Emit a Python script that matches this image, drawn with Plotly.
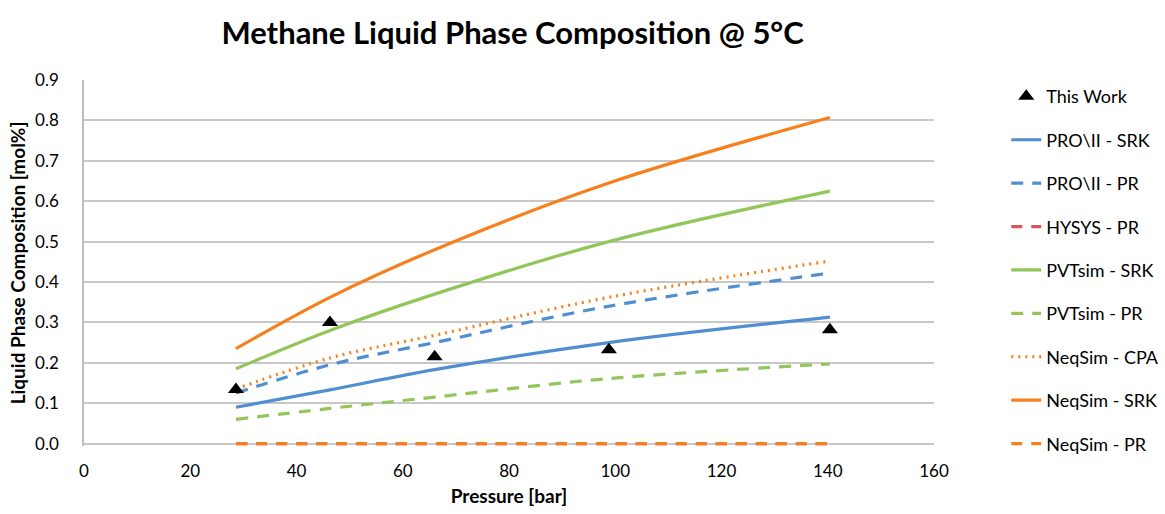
import plotly.graph_objects as go

# Pressures [bar] at which the models were evaluated and measurements taken
pressure = [28.6, 46.3, 66.0, 98.8, 140.4]

# Measured methane liquid-phase composition
this_work = [0.134, 0.300, 0.215, 0.232, 0.282]

# Model predictions
proii_srk = [0.090, 0.133, 0.183, 0.250, 0.313]
proii_pr = [0.125, 0.195, 0.250, 0.340, 0.422]
hysys_pr = [0.0, 0.0, 0.0, 0.0, 0.0]
pvtsim_srk = [0.185, 0.280, 0.370, 0.500, 0.625]
pvtsim_pr = [0.060, 0.087, 0.115, 0.161, 0.197]
neqsim_cpa = [0.135, 0.212, 0.268, 0.362, 0.452]
neqsim_srk = [0.235, 0.362, 0.480, 0.645, 0.807]
neqsim_pr = [0.0, 0.0, 0.0, 0.0, 0.0]

x_ticks = [0, 20, 40, 60, 80, 100, 120, 140, 160]
y_ticks = [0.0, 0.1, 0.2, 0.3, 0.4, 0.5, 0.6, 0.7, 0.8, 0.9]

BLUE = "#4f8fd0"
RED = "#d9545a"
GREEN = "#93c65a"
ORANGE = "#f7801e"

FONT = "Lato, 'Open Sans', sans-serif"

fig = go.Figure()

series = [
    ("PRO\\II - SRK", proii_srk, BLUE, "solid"),
    ("PRO\\II - PR", proii_pr, BLUE, "12px,9px"),
    ("HYSYS - PR", hysys_pr, RED, "11px,9px"),
    ("PVTsim - SRK", pvtsim_srk, GREEN, "solid"),
    ("PVTsim - PR", pvtsim_pr, GREEN, "12px,9px"),
    ("NeqSim - CPA", neqsim_cpa, ORANGE, "2px,5px"),
    ("NeqSim - SRK", neqsim_srk, ORANGE, "solid"),
    ("NeqSim - PR", neqsim_pr, ORANGE, "11px,9px"),
]
for i, (name, vals, color, dash) in enumerate(series):
    fig.add_trace(go.Scatter(
        x=pressure, y=vals, name=name, mode="lines",
        line=dict(color=color, width=3.2, dash=dash, shape="spline", smoothing=1.0),
        legendgroup=f"g{i}", legendrank=i + 2))

# Measurements drawn last so they sit above the curves, but listed first
fig.add_trace(go.Scatter(
    x=pressure, y=this_work, name="This Work", mode="markers",
    marker=dict(symbol="triangle-up", size=14, color="black"),
    legendgroup="a", legendrank=1))

fig.update_layout(
    width=1165, height=514,
    margin=dict(l=84, r=231, t=80, b=68, autoexpand=False),
    paper_bgcolor="white", plot_bgcolor="white",
    font=dict(family=FONT, size=17, color="black"),
    title=dict(text="<b>Methane Liquid Phase Composition @ 5°C</b>",
               x=0.44, xanchor="center", y=0.935, yanchor="middle",
               font=dict(size=31, family=FONT, color="black")),
    legend=dict(x=1.085, xanchor="left", y=1.005, yanchor="top",
                traceorder="grouped", tracegroupgap=17, maxheight=600,
                bgcolor="rgba(0,0,0,0)",
                font=dict(size=18, family=FONT)),
    showlegend=True,
)

fig.update_xaxes(
    range=[0, 160], tickvals=x_ticks, ticktext=[str(v) for v in x_ticks],
    showgrid=False, zeroline=False, showline=False,
    ticks="", ticklabelstandoff=13, tickfont=dict(size=17, family=FONT),
    title=dict(text="<b>Pressure [bar]</b>", font=dict(size=19, family=FONT), standoff=9),
)
fig.update_yaxes(
    range=[-0.006, 0.9], tickvals=y_ticks, ticktext=[f"{v:.1f}" for v in y_ticks],
    showgrid=True, gridcolor="#c8c8c8", gridwidth=1.5, zeroline=False,
    showline=True, linecolor="#bfbfbf", linewidth=1.5,
    ticks="", ticklabelstandoff=20, tickfont=dict(size=17, family=FONT),
    title=dict(text="<b>Liquid Phase Composition [mol%]</b>", font=dict(size=19, family=FONT), standoff=4),
)

fig.write_html("out.html")
